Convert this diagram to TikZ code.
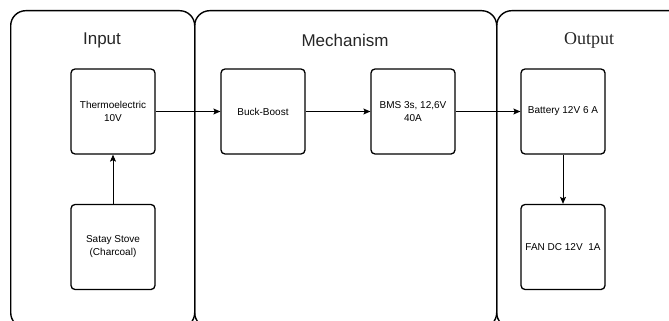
\documentclass[tikz,border=0pt]{standalone}
\usepackage{fontspec}
\setmainfont{Liberation Sans}
\newfontfamily\seriffont{Liberation Serif}
\usetikzlibrary{arrows.meta}
\begin{document}
\begin{tikzpicture}[x=1pt,y=-1pt,
  container/.style={draw, line width=1.4pt, rounded corners=15pt, anchor=north west, inner sep=0pt, minimum height=317pt},
  block/.style={draw, line width=1.3pt, rounded corners=4pt, minimum width=84pt, minimum height=85pt, inner sep=1pt, align=center, font=\fontsize{10}{13}\selectfont},
  title/.style={font=\fontsize{17}{20}\selectfont, text=black!85},
  flow/.style={line width=0.9pt, -{Stealth[length=7pt,width=6pt,inset=1.5pt]}}]
\useasboundingbox (0,0) rectangle (669,321);
\begin{scope}
\clip (0,0) rectangle (669,321);
\node[container, minimum width=184pt] (cin) at (10,10) {};
\node[container, minimum width=302pt] (cmech) at (194,10) {};
\node[container, minimum width=200pt] (cout) at (496,10) {};
\end{scope}
\node[title] (tin) at (102,40) {Input};
\node[title] (tmech) at (345,40) {Mechanism};
\node[title, font=\seriffont\fontsize{18}{20}\selectfont] (tout) at (589,40) {Output};
\node[block] (thermo) at (113,111.5) {Thermoelectric\\10V};
\node[block] (satay) at (113,247) {Satay Stove\\(Charcoal)};
\node[block] (buck) at (263,111.5) {Buck-Boost};
\node[block] (bms) at (413,111.5) {BMS 3s, 12,6V\\40A};
\node[block] (batt) at (563,111.5) {Battery 12V 6 A};
\node[block] (fan) at (563,247) {FAN DC 12V\ \ 1A};
\draw[flow] (satay) -- (thermo);
\draw[flow] (thermo) -- (buck);
\draw[flow] (buck) -- (bms);
\draw[flow] (bms) -- (batt);
\draw[flow] (batt) -- (fan);
\end{tikzpicture}
\end{document}
